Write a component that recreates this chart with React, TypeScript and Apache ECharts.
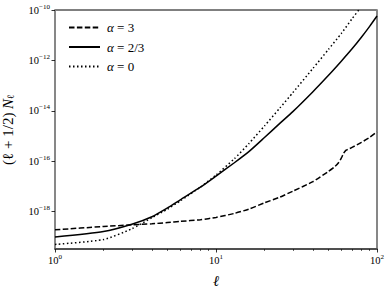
import React, { useEffect, useRef } from "react";
import * as echarts from "echarts";

// multipole ℓ at which the curves were read
const ell = [1, 2, 3, 4, 5, 6, 8, 10, 13, 16, 20, 25, 30, 40, 50, 60, 70, 80, 90, 100];
// α = 2/3 (solid)
const nAlpha23 = [
  9.8e-20, 1.62e-19, 3.16e-19, 6.3e-19, 1.41e-18, 2.95e-18, 9.3e-18, 2.57e-17, 8.7e-17, 2.4e-16,
  8.7e-16, 3.24e-15, 9.3e-15, 5.75e-14, 2.57e-13, 9.3e-13, 2.88e-12, 8.3e-12, 2.24e-11, 5.75e-11,
];
// α = 0 (dotted)
const nAlpha0 = [
  5.0e-20, 7.8e-20, 2.09e-19, 5.75e-19, 1.26e-18, 2.69e-18, 9.5e-18, 2.82e-17, 1.26e-16, 5.0e-16,
  2.51e-15, 1.32e-14, 5.25e-14, 4.8e-13, 2.75e-12, 1.17e-11, 4.5e-11, 1.35e-10, 3.16e-10, 7.6e-10,
];
// α = 3 (dashed)
const ellAlpha3 = [1, 2, 3, 4, 5, 6, 8, 10, 13, 16, 20, 25, 30, 40, 50, 55, 58, 60, 62, 64, 66, 70, 80, 90, 100];
const nAlpha3 = [
  1.91e-19, 2.57e-19, 3.0e-19, 3.3e-19, 3.7e-19, 4.1e-19, 4.8e-19, 5.9e-19, 8.5e-19, 1.26e-18,
  2.24e-18, 3.8e-18, 6.5e-18, 1.55e-17, 3.98e-17, 6.3e-17, 9.1e-17, 1.32e-16, 2.04e-16, 2.69e-16,
  2.95e-16, 3.55e-16, 5.6e-16, 8.9e-16, 1.48e-15,
];

const seriesNames = ["α = 3", "α = 2/3", "α = 0"];
const xMajorTicks = [1, 10, 100];
const xMinorTicks = [2, 3, 4, 5, 6, 7, 8, 9, 20, 30, 40, 50, 60, 70, 80, 90];
const yMajorTicks = [1e-18, 1e-16, 1e-14, 1e-12, 1e-10];
const xMin = 1;
const xMax = 100;
const yMin = 3.3e-20;
const yMax = 1e-10;

const FONT = "Liberation Serif";

const powLabel = (v: number) => {
  const e = Math.round(Math.log10(v));
  return `{b|10}{s|${e < 0 ? "−" + -e : e}}`;
};
const powRich = {
  b: { fontFamily: FONT, fontSize: 10.5, color: "#000", lineHeight: 14 },
  s: { fontFamily: FONT, fontSize: 7, color: "#000", verticalAlign: "top", lineHeight: 9 },
};

export default function App() {
  const ref = useRef<HTMLDivElement>(null);
  useEffect(() => {
    if (!ref.current) return;
    const chart = echarts.init(ref.current, undefined, { renderer: "svg" });
    const mk = (xs: number[], ys: number[]) => xs.map((x, i) => [x, ys[i]]);
    const lineBase = {
      type: "line" as const,
      xAxisIndex: 0,
      yAxisIndex: 0,
      symbol: "none",
      showSymbol: false,
      clip: true,
      smooth: 0.2,
      color: "#000",
    };
    chart.setOption({
      animation: false,
      backgroundColor: "#fff",
      grid: [
        { left: 55, right: 14, top: 10, bottom: 41, outerBoundsMode: "none", containLabel: false, show: true, borderColor: "#000", borderWidth: 1, backgroundColor: "transparent" },
        { left: 55, right: 14, top: 10, bottom: 41, outerBoundsMode: "none", containLabel: false },
      ],
      legend: {
        orient: "vertical",
        left: 63,
        top: 16,
        itemWidth: 31,
        itemHeight: 10,
        itemGap: 6.5,
        data: seriesNames,
        itemStyle: { opacity: 0 },
        formatter: (n: string) => n.replace("α", "{i|α}"),
        textStyle: {
          fontFamily: FONT,
          fontSize: 13,
          color: "#000",
          padding: [0, 0, 0, 2],
          rich: { i: { fontFamily: FONT, fontStyle: "italic", fontSize: 13, color: "#000" } },
        },
      },
      xAxis: [
        {
          type: "log",
          gridIndex: 0,
          min: xMin,
          max: xMax,
          logBase: 10,
          position: "bottom",
          axisLine: { show: true, lineStyle: { color: "#404040", width: 1.5 } },
          axisTick: { show: true, length: 3.5, customValues: xMajorTicks, lineStyle: { color: "#000", width: 0.8 } },
          axisLabel: { customValues: xMajorTicks, formatter: powLabel, rich: powRich, margin: 4 },
          splitLine: { show: false },
          minorTick: { show: false },
          name: "ℓ",
          nameLocation: "middle",
          nameGap: 24,
          nameTextStyle: { fontFamily: FONT, fontSize: 15, fontStyle: "italic", color: "#000" },
        },
        {
          type: "log",
          gridIndex: 1,
          min: xMin,
          max: xMax,
          logBase: 10,
          position: "bottom",
          axisLine: { show: false },
          axisTick: { show: true, length: 2, customValues: xMinorTicks, lineStyle: { color: "#000", width: 0.6 } },
          axisLabel: { show: false },
          splitLine: { show: false },
        },
      ],
      yAxis: [
        {
          type: "log",
          gridIndex: 0,
          min: yMin,
          max: yMax,
          logBase: 10,
          position: "left",
          axisLine: { show: true, lineStyle: { color: "#888", width: 1.8 } },
          axisTick: { show: true, length: 3.5, customValues: yMajorTicks, lineStyle: { color: "#000", width: 0.8 } },
          axisLabel: { customValues: yMajorTicks, formatter: powLabel, rich: powRich, margin: 5 },
          splitLine: { show: false },
          name: "(ℓ + 1/2) {i|N}{sub|ℓ}",
          nameLocation: "middle",
          nameGap: 40,
          nameRotate: 90,
          nameTextStyle: {
            fontFamily: FONT,
            fontSize: 15,
            color: "#000",
            rich: {
              i: { fontFamily: FONT, fontStyle: "italic", fontSize: 15, color: "#000" },
              sub: { fontFamily: FONT, fontSize: 10, color: "#000", verticalAlign: "bottom" },
            },
          },
        },
        {
          type: "log",
          gridIndex: 0,
          min: yMin,
          max: yMax,
          logBase: 10,
          position: "right",
          axisLine: { show: true, lineStyle: { color: "#888", width: 1.8 } },
          axisTick: { show: false },
          axisLabel: { show: false },
          splitLine: { show: false },
        },
        {
          type: "log",
          gridIndex: 1,
          min: yMin,
          max: yMax,
          logBase: 10,
          show: false,
        },
      ],
      series: [
        { ...lineBase, name: seriesNames[0], data: mk(ellAlpha3, nAlpha3), lineStyle: { color: "#000", width: 1.5, type: [5.5, 2.4] } },
        { ...lineBase, name: seriesNames[1], data: mk(ell, nAlpha23), lineStyle: { color: "#000", width: 1.5, type: "solid" } },
        { ...lineBase, name: seriesNames[2], data: mk(ell, nAlpha0), lineStyle: { color: "#000", width: 1.5, type: [1.5, 2.5] } },
      ],
    });
    return () => chart.dispose();
  }, []);
  return <div ref={ref} style={{ width: 391, height: 290, position: "absolute", left: 0, top: 0 }} />;
}
